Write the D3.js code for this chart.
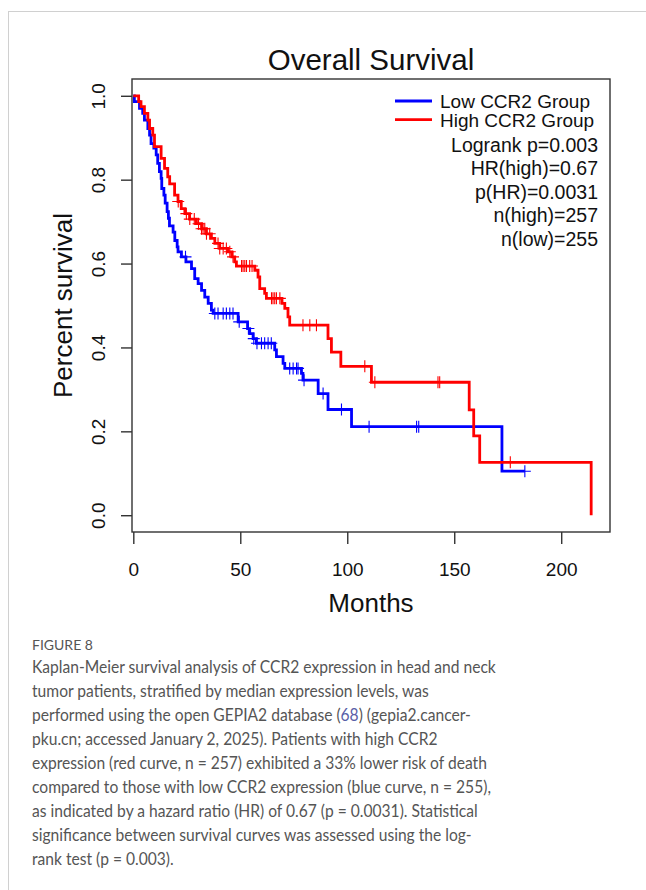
<!DOCTYPE html>
<html>
<head>
<meta charset="utf-8">
<script src="https://cdn.jsdelivr.net/npm/d3@7"></script>
<style>
  body { margin: 0; background: #fff; }
  svg text { font-family: "Liberation Sans", Arial, sans-serif; }
  svg text.caption { font-family: Lato, "Noto Sans", sans-serif; fill: #555; }
</style>
</head>
<body>
<div id="chart"></div>
<script>
const width = 646
const height = 890

// Kaplan-Meier steps (months, survival after the drop)
const redTimes = [0, 2.5, 3.6, 5.2, 6.8, 7.6, 9.1, 9.9, 13, 14.6, 16.1, 17, 19.3, 20.9, 22.4, 24.1, 26.3, 29.5, 31.9, 34.2, 36.5, 38.1, 40.4, 44.3, 46, 47.4, 48.2, 56.8, 58.3, 59.1, 61.4, 62.2, 69.5, 70.8, 72.3, 73.1, 91, 92.6, 97, 111.3, 157, 159.1, 161.9, 214]
const redSurv = [1, 0.986, 0.974, 0.958, 0.942, 0.922, 0.906, 0.879, 0.851, 0.827, 0.807, 0.79, 0.763, 0.748, 0.731, 0.719, 0.706, 0.695, 0.683, 0.671, 0.66, 0.648, 0.636, 0.628, 0.616, 0.604, 0.594, 0.584, 0.568, 0.54, 0.529, 0.517, 0.505, 0.493, 0.473, 0.453, 0.421, 0.389, 0.355, 0.317, 0.251, 0.189, 0.126, 0]
const redCensor = [21, 24.8, 26.4, 28.5, 30.5, 31.9, 32.6, 33.4, 34.2, 35.7, 39.6, 40.4, 42, 43.5, 45.1, 46.6, 50.6, 51.3, 52.1, 52.9, 54.4, 55.5, 64.6, 65.3, 66.1, 66.9, 68.5, 79.3, 82.5, 85.6, 108.2, 112.9, 142.4, 143.2, 176.2]

const blueTimes = [0, 0.5, 2.9, 4.4, 5.2, 6.8, 7.6, 8.3, 9.6, 10.7, 11.4, 12.2, 13, 13.3, 14.3, 14.9, 15.8, 16.4, 16.9, 18.6, 19.4, 20.5, 20.9, 22.5, 24.6, 27.2, 28.7, 30.3, 31.9, 33.4, 35, 36.5, 37.3, 49, 53.4, 54.4, 56, 57.5, 66.1, 66.9, 70, 70.8, 78.6, 79.3, 86.4, 91, 102, 172.3, 183]
const blueSurv = [1, 0.986, 0.97, 0.958, 0.942, 0.922, 0.906, 0.886, 0.875, 0.859, 0.839, 0.819, 0.803, 0.779, 0.763, 0.744, 0.724, 0.708, 0.69, 0.675, 0.655, 0.64, 0.628, 0.616, 0.604, 0.588, 0.564, 0.552, 0.536, 0.52, 0.505, 0.489, 0.481, 0.461, 0.445, 0.433, 0.421, 0.41, 0.394, 0.378, 0.362, 0.35, 0.338, 0.322, 0.29, 0.252, 0.211, 0.105, 0.105]
const blueCensor = [24.4, 38.1, 39.6, 42, 43.5, 45.1, 46.6, 49.5, 53.8, 56.3, 57.8, 59.9, 61.4, 63, 64.5, 73.1, 74.7, 76.3, 77, 79.8, 88.7, 97.3, 110.2, 132.4, 133.4, 183]

const xTicks = [0, 50, 100, 150, 200]
const yTicks = [0, 0.2, 0.4, 0.6, 0.8, 1.0]

const legendGroups = ["Low CCR2 Group", "High CCR2 Group"]
const legendColors = ["#0000ff", "#ff0000"]
const legendStats = ["Logrank p=0.003", "HR(high)=0.67", "p(HR)=0.0031", "n(high)=257", "n(low)=255"]

const captionLines = [
  "Kaplan-Meier survival analysis of CCR2 expression in head and neck",
  "tumor patients, stratified by median expression levels, was",
  "performed using the open GEPIA2 database (|68|) (gepia2.cancer-",
  "pku.cn; accessed January 2, 2025). Patients with high CCR2",
  "expression (red curve, n = 257) exhibited a 33% lower risk of death",
  "compared to those with low CCR2 expression (blue curve, n = 255),",
  "as indicated by a hazard ratio (HR) of 0.67 (p = 0.0031). Statistical",
  "significance between survival curves was assessed using the log-",
  "rank test (p = 0.003)."
]

const svg = d3.select("div#chart").append("svg").attr("width", width).attr("height", height)

// page frame
svg.append("rect").attr("x", 8.5).attr("y", 11.5).attr("width", 700).attr("height", 1000)
  .attr("fill", "none").attr("stroke", "#d0d0d0").attr("stroke-width", 1)

const x = d3.scaleLinear().domain([0, 222.8]).range([133.3, 610])
const y = d3.scaleLinear().domain([-0.04, 1.04]).range([532, 79])

// plot box
svg.append("rect").attr("x", 132).attr("y", 79).attr("width", 610 - 132).attr("height", 532 - 79)
  .attr("fill", "none").attr("stroke", "#333").attr("stroke-width", 1.4)

const xAxisGroup = svg.append("g").attr("transform", `translate(0, 532)`)
xAxisGroup.call(d3.axisBottom(x).tickValues(xTicks).tickSize(12))
xAxisGroup.select(".domain").remove()
xAxisGroup.selectAll("line").attr("stroke", "#333").attr("stroke-width", 1.4)
xAxisGroup.selectAll("text").attr("font-size", 19).attr("fill", "#111").attr("dy", 0).attr("y", 44)

const yAxisGroup = svg.append("g").attr("transform", `translate(132, 0)`)
yAxisGroup.call(d3.axisLeft(y).tickValues(yTicks).tickSize(11).tickFormat(d3.format(".1f")))
yAxisGroup.select(".domain").remove()
yAxisGroup.selectAll("line").attr("stroke", "#333").attr("stroke-width", 1.4)
yAxisGroup.selectAll("text")
  .attr("font-size", 19).attr("fill", "#111")
  .attr("x", null).attr("dy", null).attr("text-anchor", "middle")
  .attr("transform", "translate(-27, 0) rotate(-90)")
  .attr("y", 0)

// titles
svg.append("text").text("Overall Survival").attr("x", 371).attr("y", 70)
  .attr("text-anchor", "middle").attr("font-size", 29.5).attr("fill", "#111")
svg.append("text").text("Months").attr("x", 371).attr("y", 611.5)
  .attr("text-anchor", "middle").attr("font-size", 26).attr("fill", "#111")
svg.append("text").text("Percent survival")
  .attr("transform", `translate(72, 305.5) rotate(-90)`)
  .attr("text-anchor", "middle").attr("font-size", 26).attr("fill", "#111")

// curves
const line = d3.line().x(d => x(d[0])).y(d => y(d[1])).curve(d3.curveStepAfter)
const survAt = (times, surv, t) => surv[Math.max(0, d3.bisectRight(times, t) - 1)]

const series = [
  { times: blueTimes, surv: blueSurv, censor: blueCensor, color: "#0000ff" },
  { times: redTimes, surv: redSurv, censor: redCensor, color: "#ff0000" }
]

series.forEach(s => {
  const pts = s.times.map((t, i) => [t, s.surv[i]])
  svg.append("path").datum(pts)
    .attr("d", line)
    .attr("fill", "none").attr("stroke", s.color).attr("stroke-width", 2.8)

  const marks = svg.append("g")
  s.censor.forEach(t => {
    const cx = x(t), cy = y(survAt(s.times, s.surv, t))
    marks.append("path")
      .attr("d", `M${cx - 6},${cy}H${cx + 6}M${cx},${cy - 6}V${cy + 6}`)
      .attr("stroke", s.color).attr("stroke-width", 1.1).attr("fill", "none")
  })
})

// legend
legendGroups.forEach((g, i) => {
  const ly = 101 + i * 18.6
  svg.append("line").attr("x1", 395).attr("x2", 432).attr("y1", ly).attr("y2", ly)
    .attr("stroke", legendColors[i]).attr("stroke-width", 2.8)
  svg.append("text").text(g).attr("x", 440).attr("y", ly + 7)
    .attr("font-size", 19).attr("fill", "#111")
})
legendStats.forEach((t, i) => {
  svg.append("text").text(t).attr("x", 598).attr("y", 151.5 + i * 23.5)
    .attr("text-anchor", "end").attr("font-size", 19.5).attr("fill", "#111")
})

// caption
svg.append("text").attr("class", "caption").text("FIGURE 8")
  .attr("x", 32).attr("y", 649.5).attr("font-size", 14).attr("fill", "#6a6a6a")

const captionGroup = svg.append("g")
const captionTexts = captionLines.map((l, i) => {
  const t = captionGroup.append("text").attr("class", "caption")
    .attr("x", 0).attr("y", 673.5 + i * 24).attr("font-size", 17.5)
  l.split("|").forEach((part, j) => {
    t.append("tspan").text(part).attr("fill", j === 1 ? "#5a5fa8" : "#555")
  })
  return t
})
// the reference face is narrower: squeeze horizontally so line 1 ends near x=496
const fit = 464 / captionTexts[0].node().getComputedTextLength()
captionGroup.attr("transform", `translate(32, 0) scale(${fit}, 1)`)
</script>
</body>
</html>
